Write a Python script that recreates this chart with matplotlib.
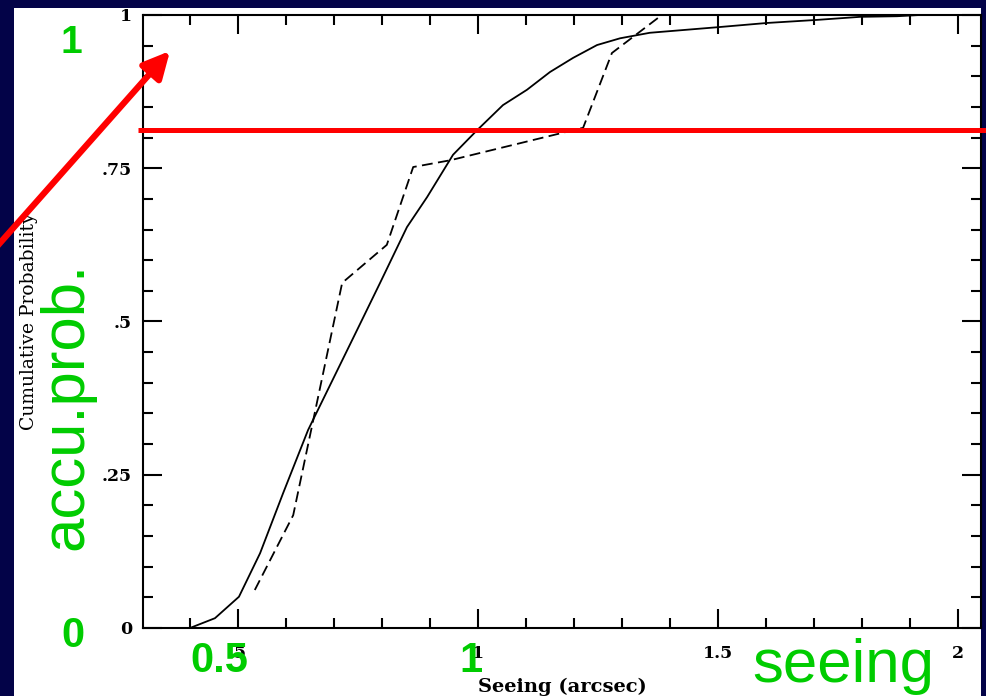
import matplotlib
matplotlib.use("Agg")
import matplotlib.pyplot as plt
from matplotlib.patches import Rectangle
from matplotlib.ticker import MultipleLocator, FixedLocator

# ---------------- data ----------------
seeing_solid = [0.40, 0.452, 0.502, 0.546, 0.594, 0.646, 0.748, 0.796, 0.852, 0.894,
                0.948, 0.998, 1.052, 1.102, 1.15, 1.198, 1.248, 1.296, 1.358, 1.498,
                1.602, 1.706, 1.796, 1.873, 1.92]
prob_solid = [0.0, 0.016, 0.051, 0.122, 0.22, 0.323, 0.486, 0.563, 0.654, 0.703,
              0.772, 0.812, 0.853, 0.878, 0.907, 0.93, 0.951, 0.962, 0.971, 0.980,
              0.987, 0.992, 0.997, 0.998, 1.0]

seeing_dashed = [0.535, 0.615, 0.717, 0.81, 0.865, 0.942, 1.219, 1.279, 1.383]
prob_dashed = [0.062, 0.184, 0.563, 0.625, 0.752, 0.763, 0.816, 0.938, 1.0]

threshold = 0.812

x_major = [0.5, 1.0, 1.5, 2.0]
x_major_labels = [".5", "1", "1.5", "2"]
y_major = [0.0, 0.25, 0.5, 0.75, 1.0]
y_major_labels = ["0", ".25", ".5", ".75", "1"]

x_label = "Seeing (arcsec)"
y_label = "Cumulative Probability"

# ---------------- layout helpers ----------------
W, H = 986, 696
NAVY = "#030348"
GREEN = "#00cc00"

plt.rcParams["font.family"] = ["DejaVu Serif"]

fig = plt.figure(figsize=(W / 100, H / 100), dpi=100, facecolor=NAVY)


def fx(px):
    return px / W


def fy(py):
    return 1 - py / H


# white slide panel
fig.add_artist(Rectangle((fx(14), 0), fx(981) - fx(14), fy(8), transform=fig.transFigure,
                         facecolor="white", edgecolor="none", zorder=-5))

ax_left, ax_right, ax_top, ax_bot = 143, 981, 15, 628
ax = fig.add_axes([fx(ax_left), fy(ax_bot), (ax_right - ax_left) / W, (ax_bot - ax_top) / H])
ax.set_facecolor("white")


def x_of(px):
    return 0.5 + (px - 238) / 480.0


ax.set_xlim(x_of(ax_left), x_of(ax_right))
ax.set_ylim(0, 1)

ax.plot(seeing_solid, prob_solid, color="black", lw=1.3, solid_joinstyle="miter")
ax.plot(seeing_dashed, prob_dashed, color="black", lw=1.3, linestyle=(0, (6, 3)))

# ticks
ax.xaxis.set_major_locator(FixedLocator(x_major))
ax.set_xticklabels(x_major_labels, fontweight="bold")
ax.xaxis.set_minor_locator(MultipleLocator(0.1))
ax.yaxis.set_major_locator(FixedLocator(y_major))
ax.set_yticklabels(y_major_labels, fontweight="bold")
ax.yaxis.set_minor_locator(MultipleLocator(0.05))

ax.tick_params(which="both", direction="in", top=True, right=True, color="black", width=1.5)
ax.tick_params(which="major", length=14)
ax.tick_params(which="minor", length=7)
ax.tick_params(axis="x", which="major", pad=12, labelsize=12.5)
ax.tick_params(axis="y", which="major", pad=8, labelsize=12.5)
for s in ax.spines.values():
    s.set_linewidth(1.5)

ax.set_xlabel(x_label, fontsize=14, fontweight="bold")
ax.xaxis.set_label_coords(0.5, (ax_bot - 678) / (ax_bot - ax_top))
ax.set_ylabel(y_label, fontsize=13.5)
ax.yaxis.set_label_coords((38 - ax_left) / (ax_right - ax_left), 0.5)

# red threshold line
ax.plot([x_of(138), x_of(992)], [threshold, threshold], color="red", lw=3.6,
        clip_on=False, zorder=6, solid_capstyle="butt")

# red arrow
slope = (51 - 243) / 170.0
ax.annotate("", xy=(170, H - 51), xycoords="figure pixels",
            xytext=(-20, H - (243 - 20 * slope)), textcoords="figure pixels",
            arrowprops=dict(arrowstyle="-|>,head_length=0.8,head_width=0.4",
                            mutation_scale=20, lw=4.5, color="red",
                            shrinkA=0, shrinkB=0),
            annotation_clip=False, zorder=10)

# green annotations
gkw = dict(color=GREEN, family=["Liberation Sans"], transform=fig.transFigure, zorder=20)
fig.text(fx(71.5), fy(53), "1", fontsize=28, fontweight="bold", ha="center", va="baseline", **gkw)
fig.text(fx(72.5), fy(647), "0", fontsize=30, fontweight="bold", ha="center", va="baseline", **gkw)
fig.text(fx(219), fy(672), "0.5", fontsize=30, fontweight="bold", ha="center", va="baseline", **gkw)
fig.text(fx(471), fy(672), "1", fontsize=30, fontweight="bold", ha="center", va="baseline", **gkw)
fig.text(fx(843.5), fy(682), "seeing", fontsize=44.5, ha="center", va="baseline", **gkw)
fig.text(fx(82), fy(406), "accu.prob.", fontsize=44.5, ha="center", va="baseline",
         rotation=90, rotation_mode="anchor", **gkw)

fig.savefig("out.png", dpi=100, facecolor=NAVY)
